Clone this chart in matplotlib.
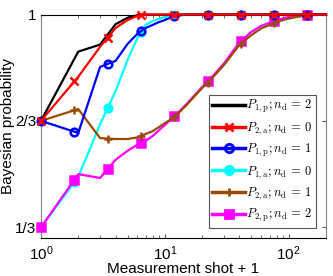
import numpy as np
import matplotlib
matplotlib.use('Agg')
import matplotlib.pyplot as plt
from matplotlib.lines import Line2D

plt.rcParams['font.family'] = 'Liberation Sans'
plt.rcParams['mathtext.fontset'] = 'cm'

# measurement shot + 1
shots = [1, 2, 3, 4, 5, 6, 7, 8, 9, 10, 12, 15, 20, 25, 30, 40, 50, 60, 80, 100, 130, 160, 200]
# marker positions along the x axis
marker_shots = [1, 1.86, 3.45, 6.4, 11.9, 22.1, 41, 76.2, 141.5]

p1p_nd2 = [0.667, 0.884, 0.906, 0.970, 0.990, 0.998, 1, 1, 1, 1, 1, 1, 1, 1, 1, 1, 1, 1, 1, 1, 1, 1, 1]
p2a_nd0 = [0.667, 0.805, 0.899, 0.958, 0.983, 0.996, 1, 1, 1, 1, 1, 1, 1, 1, 1, 1, 1, 1, 1, 1, 1, 1, 1]
p1p_nd1 = [0.667, 0.629, 0.836, 0.855, 0.908, 0.940, 0.958, 0.968, 0.977, 0.983, 0.996, 1, 1, 1, 1, 1, 1, 1, 1, 1, 1, 1, 1]
p1a_nd0 = [0.333, 0.491, 0.656, 0.760, 0.858, 0.927, 0.968, 0.980, 0.987, 0.993, 1, 1, 1, 1, 1, 1, 1, 1, 1, 1, 1, 1, 1]
p2a_nd1 = [0.667, 0.704, 0.613, 0.610, 0.610, 0.615, 0.626, 0.635, 0.648, 0.660, 0.679, 0.717, 0.770, 0.808, 0.842, 0.905, 0.936, 0.957, 0.977, 0.988, 0.996, 1, 1]
p2p_nd2 = [0.333, 0.500, 0.488, 0.545, 0.573, 0.592, 0.604, 0.620, 0.638, 0.654, 0.682, 0.720, 0.773, 0.812, 0.847, 0.913, 0.946, 0.965, 0.983, 0.993, 0.998, 1, 1]

labels = [r'$P_{\mathrm{1,p}};n_{\mathrm{d}}\,=\,2$',
          r'$P_{\mathrm{2,a}};n_{\mathrm{d}}\,=\,0$',
          r'$P_{\mathrm{1,p}};n_{\mathrm{d}}\,=\,1$',
          r'$P_{\mathrm{1,a}};n_{\mathrm{d}}\,=\,0$',
          r'$P_{\mathrm{2,a}};n_{\mathrm{d}}\,=\,1$',
          r'$P_{\mathrm{2,p}};n_{\mathrm{d}}\,=\,2$']

brown = '#994c00'
# (values, color, marker, marker face, label index, zorder)
series = [
    (p1a_nd0, 'cyan', 'o', 'cyan', 3, 2),
    (p2p_nd2, 'magenta', 's', 'magenta', 5, 3),
    (p2a_nd1, brown, '+', brown, 4, 4),
    (p1p_nd1, 'blue', 'o', 'none', 2, 5),
    (p1p_nd2, 'black', None, 'black', 0, 6),
    (p2a_nd0, 'red', 'x', 'red', 1, 7),
]

fig = plt.figure(figsize=(3.33, 2.76), dpi=100)
ax = fig.add_axes([0.123, 0.138, 0.856, 0.809])

handles = [None] * 6
logx = np.log10(shots)
for vals, col, mk, mfc, idx, z in series:
    ax.plot(shots, vals, color=col, lw=1.6, zorder=z, clip_on=False)
    if mk is not None:
        my = np.interp(np.log10(marker_shots), logx, vals)
        ax.plot(marker_shots, my, ls='none', marker=mk, color=col, mfc=mfc,
                ms=5.5, mew=1.8, zorder=z, clip_on=False)
    handles[idx] = Line2D([], [], color=col, lw=2.5, marker=mk, mfc=mfc,
                          ms=6, mew=2)

ax.set_xscale('log')
ax.set_xlim(1, 200)
ax.set_ylim(0.3, 1)
ax.set_yticks([1/3, 2/3, 1])
ax.set_yticklabels(['1/3', '2/3', '1'])
ax.set_xticks([1, 10, 100])
ax.set_xticklabels([r'$\mathregular{10^0}$', r'$\mathregular{10^1}$', r'$\mathregular{10^2}$'])
ax.tick_params(which='both', direction='in', top=True, right=True, labelsize=11,
               color='#555555')
ax.tick_params(which='major', length=3)
ax.tick_params(which='minor', length=2)
ax.tick_params(axis='x', pad=5)
for s in ['left', 'right']:
    ax.spines[s].set_color('#808080')

ax.set_xlabel('Measurement shot + 1', fontsize=11, labelpad=-1)
ax.set_ylabel('Bayesian probability', fontsize=11, labelpad=0)

leg = ax.legend(handles, labels, loc='lower right', fontsize=9,
                handlelength=2.6, handletextpad=0.1, borderpad=0.3,
                labelspacing=0.4, fancybox=False, framealpha=1,
                bbox_to_anchor=(0.965, 0.045), borderaxespad=0)
leg.get_frame().set_edgecolor('#555555')
leg.get_frame().set_linewidth(0.8)

fig.savefig('out.png', dpi=100)
